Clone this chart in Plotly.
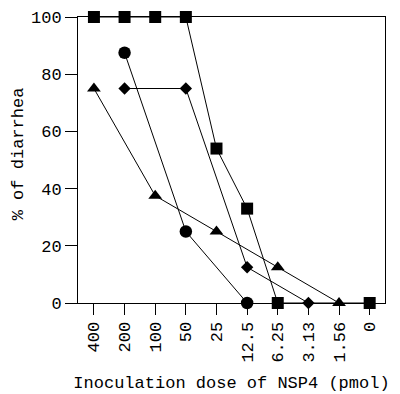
import plotly.graph_objects as go

doses = ["400", "200", "100", "50", "25", "12.5", "6.25", "3.13", "1.56", "0"]

sq_x = ["400", "200", "100", "50", "25", "12.5", "6.25", "0"]
sq_y = [100, 100, 100, 100, 54, 33, 0, 0]

ci_x = ["200", "50", "12.5"]
ci_y = [87.5, 25, 0]

di_x = ["200", "50", "12.5", "3.13"]
di_y = [75, 75, 12.5, 0]

tr_x = ["400", "100", "25", "6.25", "1.56"]
tr_y = [75, 37.5, 25, 12.5, 0]

FONT = "Courier New, Liberation Mono, monospace"

fig = go.Figure()
series = [
    (sq_x, sq_y, "square", 12),
    (tr_x, tr_y, "triangle-up", 12),
    (di_x, di_y, "diamond", 9.5),
    (ci_x, ci_y, "circle", 12.5),
]
for xs, ys, sym, sz in series:
    fig.add_trace(go.Scatter(
        x=xs, y=ys, mode="lines+markers",
        line=dict(color="black", width=1),
        marker=dict(symbol=sym, size=sz, color="black"),
        cliponaxis=False, showlegend=False,
    ))

fig.update_layout(
    width=400, height=394,
    margin=dict(l=70, r=23, t=9, b=99),
    plot_bgcolor="white", paper_bgcolor="white",
    font=dict(family=FONT, size=17, color="black"),
)
fig.update_xaxes(
    type="category", categoryorder="array", categoryarray=doses,
    range=[-0.52, 9.5],
    showline=True, linecolor="black", linewidth=1, mirror=True,
    ticks="outside", ticklen=11, tickcolor="black",
    tickangle=-90, showgrid=False, zeroline=False,
    tickfont=dict(size=17),
    title=dict(text="Inoculation dose of NSP4 (pmol)", standoff=14,
               font=dict(size=17)),
    automargin=False,
)
fig.update_yaxes(
    range=[0, 100], tickvals=[0, 20, 40, 60, 80, 100],
    showline=True, linecolor="black", linewidth=1, mirror=True,
    ticks="outside", ticklen=12, tickcolor="black",
    showgrid=False, zeroline=False,
    tickfont=dict(size=17),
    automargin=False,
)
fig.add_annotation(
    text="% of diarrhea", textangle=-90,
    xref="paper", yref="paper", x=-60 / 307, y=0.52,
    xanchor="center", yanchor="middle", showarrow=False,
    font=dict(size=17),
)

fig.write_html("out.html")
